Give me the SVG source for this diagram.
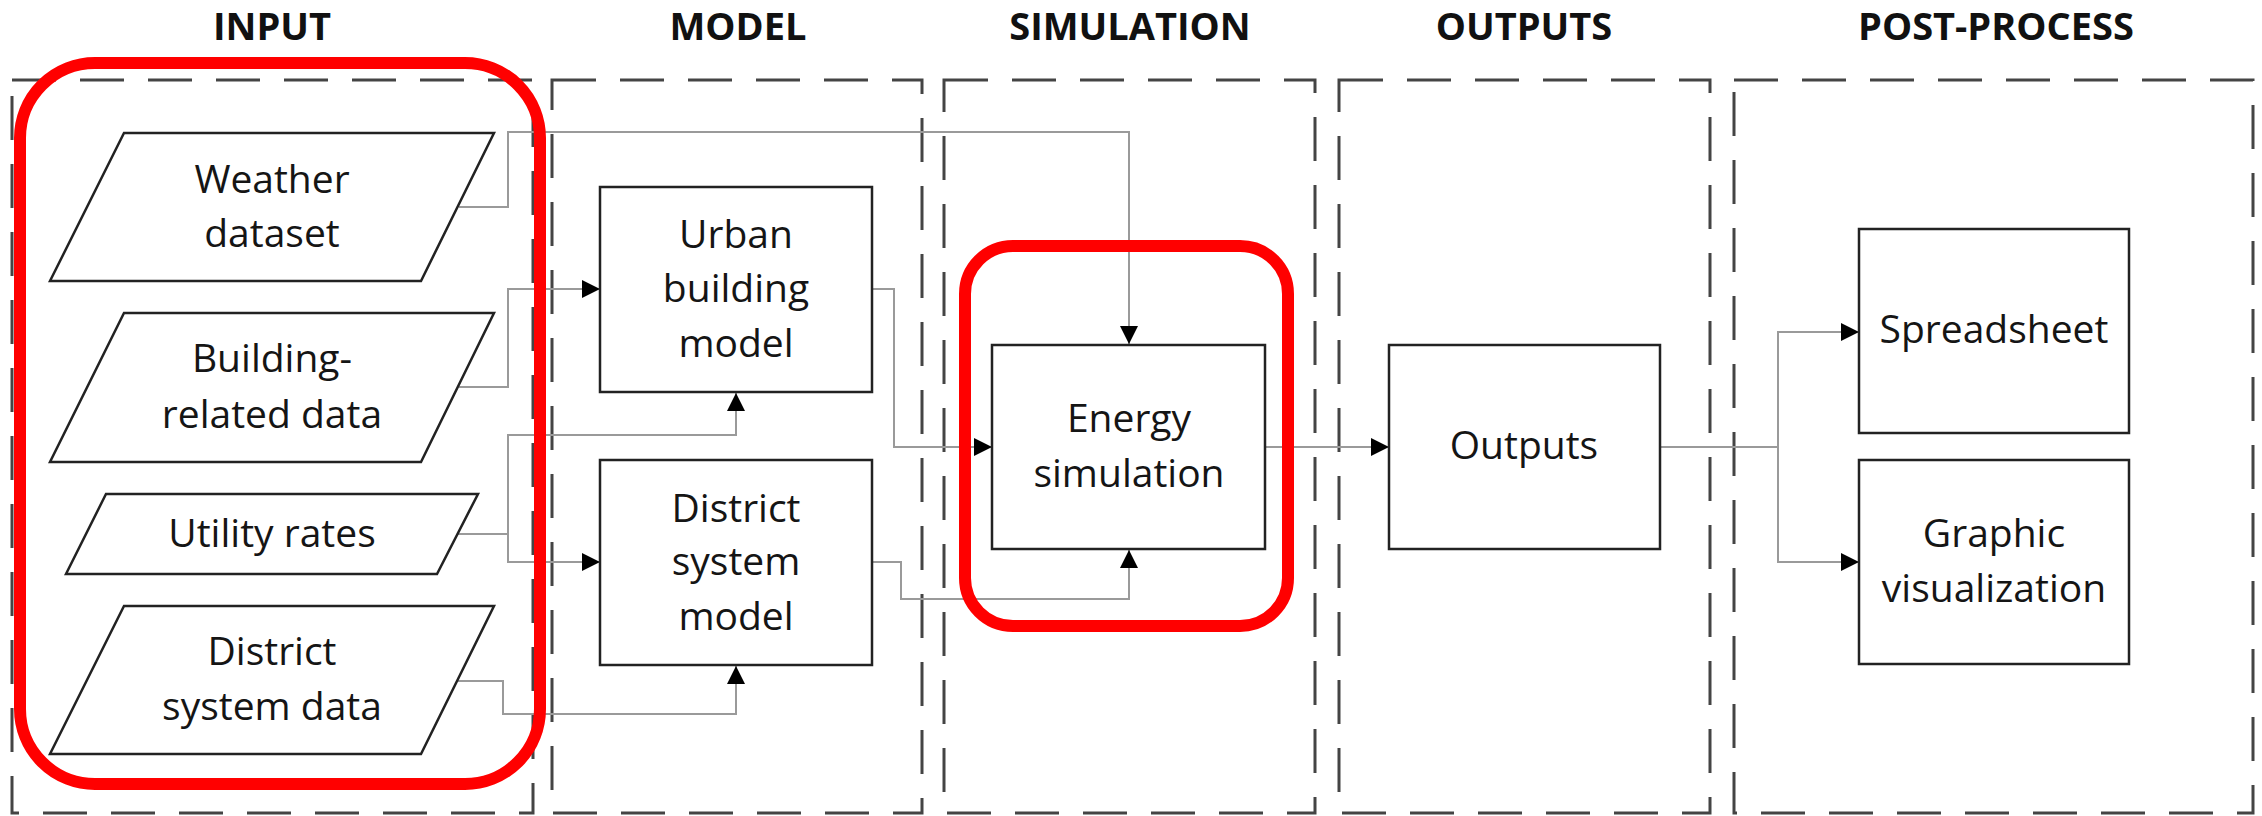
<svg xmlns="http://www.w3.org/2000/svg" width="2262" height="816" viewBox="0 0 2262 816">
<style>
.panel{fill:none;stroke:#444;stroke-width:3;stroke-dasharray:44 24}
.title{font-family:"Open Sans","Liberation Sans",sans-serif;font-weight:bold;font-size:38px;fill:#111;text-anchor:middle}
.shape{fill:#fff;stroke:#222;stroke-width:2.5}
.lbl{font-family:"Open Sans","Liberation Sans",sans-serif;font-size:39px;fill:#151515;text-anchor:middle}
.conn{fill:none;stroke:#9a9a9a;stroke-width:2}
.hl{fill:none;stroke:#ff0000;stroke-width:12}
</style>
<defs>
<marker id="arr" markerUnits="userSpaceOnUse" markerWidth="18" markerHeight="18" refX="18" refY="9" orient="auto">
<path d="M0,0 L18,9 L0,18 z" fill="#000"/>
</marker>
</defs>
<rect width="2262" height="816" fill="#fff"/>
<g id="panels">
<rect class="panel" x="12" y="80" width="521" height="733"/>
<rect class="panel" x="552" y="80" width="370" height="733"/>
<rect class="panel" x="944" y="80" width="371" height="733"/>
<rect class="panel" x="1339" y="80" width="371" height="733"/>
<rect class="panel" x="1734" y="80" width="519" height="733"/>
</g>
<g id="titles">
<text class="title" x="272" y="40">INPUT</text>
<text class="title" x="738" y="40">MODEL</text>
<text class="title" x="1130" y="40">SIMULATION</text>
<text class="title" x="1524" y="40">OUTPUTS</text>
<text class="title" x="1996" y="40">POST-PROCESS</text>
</g>
<g id="connectors">
<path class="conn" d="M459,207 H508 V132 H1129 V344" marker-end="url(#arr)"/>
<path class="conn" d="M459,387 H508 V289 H600" marker-end="url(#arr)"/>
<path class="conn" d="M458,534 H508 V435 H736 V393" marker-end="url(#arr)"/>
<path class="conn" d="M508,534 V562 H600" marker-end="url(#arr)"/>
<path class="conn" d="M458,681 H503 V714 H736 V666" marker-end="url(#arr)"/>
<path class="conn" d="M872,289 H894 V447 H992" marker-end="url(#arr)"/>
<path class="conn" d="M872,562 H901 V599 H1129 V550" marker-end="url(#arr)"/>
<path class="conn" d="M1265,447 H1389" marker-end="url(#arr)"/>
<path class="conn" d="M1660,447 H1778 V332 H1859" marker-end="url(#arr)"/>
<path class="conn" d="M1778,447 V562 H1859" marker-end="url(#arr)"/>
</g>
<g id="weather">
<polygon class="shape" points="124,133 494,133 421,281 50,281"/>
<text class="lbl" x="272" y="193">Weather</text>
<text class="lbl" x="272" y="247">dataset</text>
</g>
<g id="building-data">
<polygon class="shape" points="124,313 494,313 421,462 50,462"/>
<text class="lbl" x="272" y="372">Building-</text>
<text class="lbl" x="272" y="428">related data</text>
</g>
<g id="utility">
<polygon class="shape" points="106,494 478,494 437,574 66,574"/>
<text class="lbl" x="272" y="547">Utility rates</text>
</g>
<g id="district-data">
<polygon class="shape" points="124,606 494,606 421,754 50,754"/>
<text class="lbl" x="272" y="665">District</text>
<text class="lbl" x="272" y="720">system data</text>
</g>
<g id="urban-model">
<rect class="shape" x="600" y="187" width="272" height="205"/>
<text class="lbl" x="736" y="248">Urban</text>
<text class="lbl" x="736" y="302">building</text>
<text class="lbl" x="736" y="357">model</text>
</g>
<g id="district-model">
<rect class="shape" x="600" y="460" width="272" height="205"/>
<text class="lbl" x="736" y="522">District</text>
<text class="lbl" x="736" y="575">system</text>
<text class="lbl" x="736" y="630">model</text>
</g>
<g id="energy-simulation">
<rect class="shape" x="992" y="345" width="273" height="204"/>
<text class="lbl" x="1129" y="432">Energy</text>
<text class="lbl" x="1129" y="487">simulation</text>
</g>
<g id="outputs">
<rect class="shape" x="1389" y="345" width="271" height="204"/>
<text class="lbl" x="1524" y="459">Outputs</text>
</g>
<g id="spreadsheet">
<rect class="shape" x="1859" y="229" width="270" height="204"/>
<text class="lbl" x="1994" y="343">Spreadsheet</text>
</g>
<g id="graphic-visualization">
<rect class="shape" x="1859" y="460" width="270" height="204"/>
<text class="lbl" x="1994" y="547">Graphic</text>
<text class="lbl" x="1994" y="602">visualization</text>
</g>
<g id="highlights">
<rect class="hl" x="20" y="63" width="520" height="721" rx="75" ry="75"/>
<rect class="hl" x="965" y="246" width="323" height="380" rx="48" ry="48"/>
</g>
</svg>
